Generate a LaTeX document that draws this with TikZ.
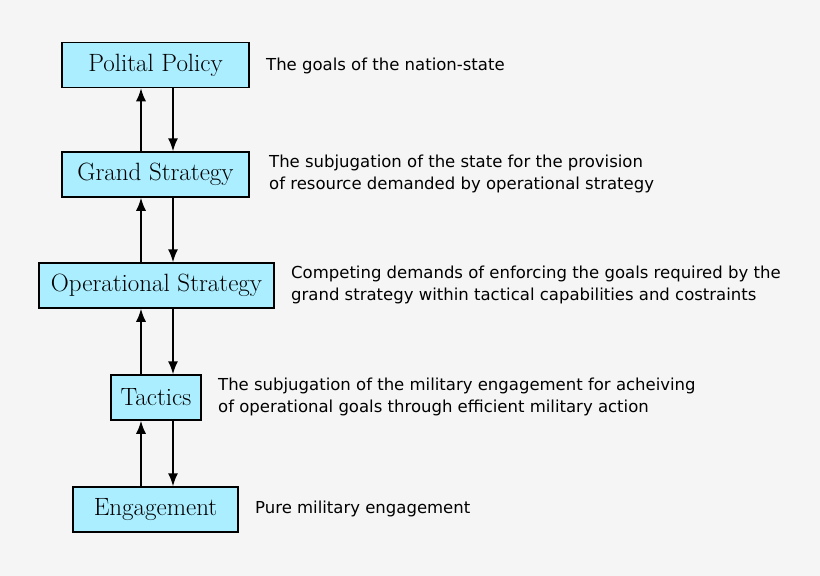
\documentclass[tikz,border=0pt]{standalone}
\usepackage{fontspec}
\newfontfamily\descfont{DejaVu Sans}
\usetikzlibrary{arrows.meta}
\definecolor{boxfill}{HTML}{AAEEFF}
\begin{document}
\begin{tikzpicture}[x=1pt,y=-1pt,
 box/.style={draw=black,line width=1.5pt,fill=boxfill,minimum height=45pt,inner sep=0pt,font=\fontsize{25}{28}\selectfont},
 desc/.style={anchor=west,align=left,font=\descfont\fontsize{16.5}{22}\selectfont,inner sep=0pt},
 arr/.style={line width=1.5pt,-{Latex[length=13pt,width=10pt]}}]
\fill[white!96!black] (0,0) rectangle (820,576);
\useasboundingbox (0,0) rectangle (820,576);
\node[box,minimum width=187pt] (p) at (155.5,65) {Polital Policy};
\node[box,minimum width=187pt] (g) at (155.5,174.5) {Grand Strategy};
\node[box,minimum width=235pt] (o) at (156.5,285.5) {Operational Strategy};
\node[box,minimum width=90pt] (t) at (156,397.5) {Tactics};
\node[box,minimum width=165pt] (e) at (155.5,509.5) {Engagement};
\foreach \a/\b in {p/g,g/o,o/t,t/e}{
 \draw[arr] (\b.north -| 141,0) -- (\a.south -| 141,0);
 \draw[arr] (\a.south -| 173,0) -- (\b.north -| 173,0);}
\node[desc] (dp) at (266,66) {The goals of the nation-state};
\node[desc] (dg) at (269,174) {The subjugation of the state for the provision\\of resource demanded by operational strategy};
\node[desc] (do) at (291,285) {Competing demands of enforcing the goals required by the\\grand strategy within tactical capabilities and costraints};
\node[desc] (dt) at (218,396.5) {The subjugation of the military engagement for acheiving\\of operational goals through efficient military action};
\node[desc] (de) at (255,509) {Pure military engagement};
\end{tikzpicture}
\end{document}
